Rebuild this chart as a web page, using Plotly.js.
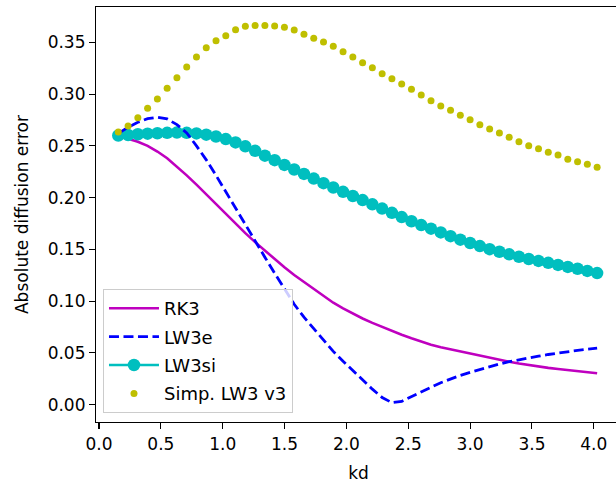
<!DOCTYPE html>
<html>
<head>
<meta charset="utf-8">
<script src="https://cdn.plot.ly/plotly-3.0.1.min.js"></script>
<style>
html, body { margin: 0; padding: 0; overflow: hidden; background: #fff; }
#chart { width: 625px; height: 484px; }
</style>
</head>
<body>
<div id="chart"></div>
<script>
// kd values (50 samples)
const kd = [0.156,0.235,0.314,0.393,0.472,0.551,0.630,0.709,0.788,0.867,
            0.946,1.025,1.104,1.183,1.262,1.341,1.420,1.499,1.578,1.657,
            1.736,1.815,1.894,1.973,2.052,2.131,2.210,2.289,2.368,2.447,
            2.526,2.605,2.684,2.763,2.842,2.921,3.000,3.079,3.158,3.237,
            3.316,3.395,3.474,3.553,3.632,3.711,3.790,3.869,3.948,4.027];

const rk3 = [0.2598,0.2570,0.2540,0.2500,0.2445,0.2380,0.2300,0.2215,0.2125,0.2030,
             0.1935,0.1840,0.1745,0.1657,0.1570,0.1487,0.1405,0.1327,0.1253,0.1185,
             0.1115,0.1050,0.0985,0.0930,0.0880,0.0833,0.0790,0.0750,0.0712,0.0676,
             0.0642,0.0610,0.0580,0.0555,0.0534,0.0513,0.0492,0.0472,0.0452,0.0433,
             0.0415,0.0398,0.0382,0.0367,0.0356,0.0345,0.0334,0.0324,0.0314,0.0304];

const lw3e = [0.2620,0.2680,0.2728,0.2762,0.2776,0.2760,0.2705,0.2625,0.2500,0.2365,
              0.2215,0.2055,0.1900,0.1745,0.1585,0.1425,0.1270,0.1115,0.0970,0.0845,
              0.0733,0.0622,0.0515,0.0420,0.0328,0.0238,0.0150,0.0070,0.0020,0.0032,
              0.0075,0.0120,0.0168,0.0212,0.0250,0.0283,0.0313,0.0342,0.0368,0.0393,
              0.0415,0.0435,0.0453,0.0469,0.0485,0.0500,0.0513,0.0525,0.0536,0.0547];

const lw3si = [0.2600,0.2605,0.2612,0.2618,0.2622,0.2626,0.2628,0.2626,0.2620,0.2608,
               0.2590,0.2565,0.2533,0.2495,0.2452,0.2405,0.2362,0.2316,0.2272,0.2229,
               0.2184,0.2140,0.2098,0.2056,0.2016,0.1976,0.1935,0.1894,0.1853,0.1812,
               0.1772,0.1735,0.1700,0.1664,0.1628,0.1594,0.1562,0.1532,0.1502,0.1477,
               0.1452,0.1429,0.1407,0.1389,0.1370,0.1350,0.1331,0.1313,0.1292,0.1271];

const simpLW3 = [0.2634,0.2692,0.2772,0.2863,0.2952,0.3056,0.3158,0.3262,0.3358,0.3448,
                 0.3516,0.3564,0.3622,0.3655,0.3662,0.3662,0.3658,0.3645,0.3619,0.3577,
                 0.3539,0.3503,0.3461,0.3409,0.3358,0.3303,0.3255,0.3197,0.3149,0.3097,
                 0.3046,0.2991,0.2936,0.2885,0.2843,0.2795,0.2753,0.2704,0.2663,0.2624,
                 0.2583,0.2540,0.2501,0.2472,0.2438,0.2412,0.2370,0.2347,0.2322,0.2293];

const names = ["RK3", "LW3e", "LW3si", "Simp. LW3 v3"];

const FONT = "DejaVu Sans, sans-serif";
const FS = 17;

const traces = [
  { x: kd, y: rk3, name: names[0], type: "scatter", mode: "lines",
    line: { color: "#bf00bf", width: 2.6 }, legendrank: 1, legendgroup: "a" },
  { x: kd, y: lw3si, name: names[2], type: "scatter", mode: "lines+markers",
    line: { color: "#00bfbf", width: 2.6 }, marker: { color: "#00bfbf", size: 12.5 },
    legendrank: 3, legendgroup: "c" },
  { x: kd, y: lw3e, name: names[1], type: "scatter", mode: "lines",
    line: { color: "#0000ff", width: 2.8, dash: "10px,4.5px" }, legendrank: 2, legendgroup: "b" },
  { x: kd, y: simpLW3, name: names[3], type: "scatter", mode: "markers",
    marker: { color: "#bfbf00", size: 7 }, legendrank: 4, legendgroup: "d" }
];

const axisCommon = {
  showgrid: false, zeroline: false, showline: true, linecolor: "#000", linewidth: 1.1,
  mirror: true, ticks: "outside", ticklen: 6, tickwidth: 1.1, tickcolor: "#000",
  tickfont: { family: FONT, size: FS, color: "#000" }
};

const layout = {
  width: 625, height: 484,
  margin: { l: 96, r: 4, t: 7, b: 62 },
  paper_bgcolor: "#fff", plot_bgcolor: "#fff",
  font: { family: FONT, size: FS, color: "#000" },
  showlegend: true,
  xaxis: Object.assign({}, axisCommon, {
    range: [-0.0243, 4.220], tick0: 0, dtick: 0.5, tickformat: ".1f",
    title: { text: "kd", font: { family: FONT, size: FS, color: "#000" }, standoff: 14 }
  }),
  yaxis: Object.assign({}, axisCommon, {
    range: [-0.0167, 0.3841], tick0: 0, dtick: 0.05, tickformat: ".2f",
    title: { text: "Absolute diffusion error", font: { family: FONT, size: FS, color: "#000" }, standoff: 14 }
  }),
  legend: {
    x: 0.0133, y: 0.0217, xanchor: "left", yanchor: "bottom",
    bgcolor: "rgba(255,255,255,0.8)", bordercolor: "#cccccc", borderwidth: 1,
    font: { family: FONT, size: 18, color: "#000" },
    tracegroupgap: 2, traceorder: "grouped", itemwidth: 50
  }
};

Plotly.newPlot("chart", traces, layout, { displayModeBar: false, staticPlot: true });
</script>
</body>
</html>
